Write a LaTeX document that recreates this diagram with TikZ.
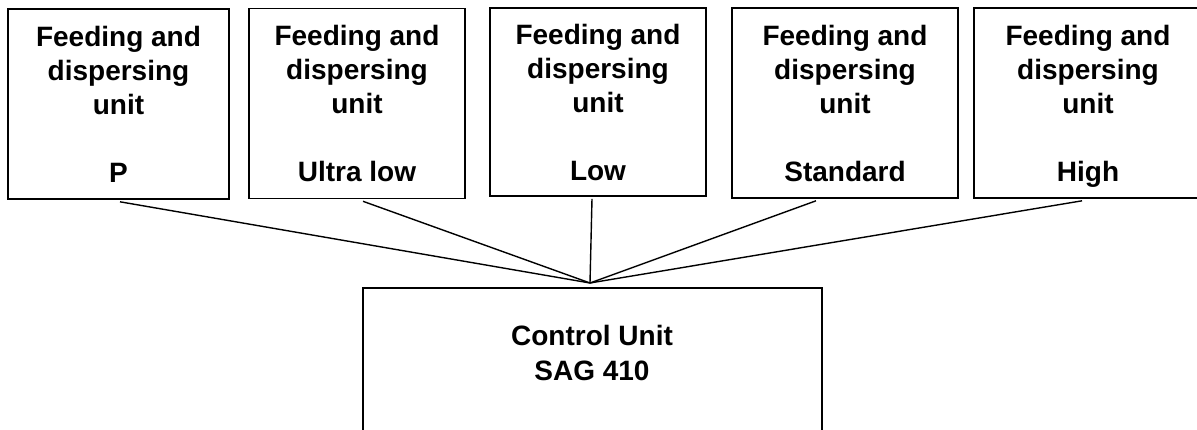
\documentclass[tikz,border=0pt]{standalone}
\usepackage{fontspec}
\setmainfont{Liberation Sans}
\begin{document}
\begin{tikzpicture}[x=1pt, y=-1pt, line width=1.6pt,
  unit/.style={draw, minimum height=190pt, align=center, inner sep=0pt, text depth=0pt,
    font=\bfseries\fontsize{28}{34}\selectfont}]
\useasboundingbox (0,0) rectangle (1197,430);
\clip (0,0) rectangle (1197,430);
\node[unit, minimum width=221pt] (p) at (118.5,104){Feeding and\\dispersing\\unit\\[34pt]P};
\node[unit, minimum width=216pt] (ultra) at (357,103.5){Feeding and\\dispersing\\unit\\[34pt]Ultra low};
\node[unit, minimum width=216pt, minimum height=188pt] (low) at (598,102){Feeding and\\dispersing\\unit\\[34pt]Low};
\node[unit, minimum width=226pt] (std) at (845,103){Feeding and\\dispersing\\unit\\[34pt]Standard};
\node[unit, minimum width=228pt] (high) at (1088,103){Feeding and\\dispersing\\unit\\[34pt]High};

\node[draw, minimum width=459pt, minimum height=200pt, anchor=north, inner sep=0pt] (ctrl) at (592.5,287){};
\node[align=center, text depth=0pt, font=\bfseries\fontsize{28}{35}\selectfont] (ctrltext) at (592,353){Control Unit\\SAG 410};

\coordinate (hub) at (590,283);
\draw[line width=1.4pt] ([xshift=1.5pt,yshift=-2pt]p.south) -- (hub);
\draw[line width=1.4pt] ([xshift=6pt,yshift=-2pt]ultra.south) -- (hub);
\draw[line width=1.4pt] ([xshift=-6pt,yshift=-2pt]low.south) -- (hub);
\draw[line width=1.4pt] ([xshift=-29pt,yshift=-2pt]std.south) -- (hub);
\draw[line width=1.4pt] ([xshift=-6pt,yshift=-2pt]high.south) -- (hub);
\end{tikzpicture}
\end{document}
